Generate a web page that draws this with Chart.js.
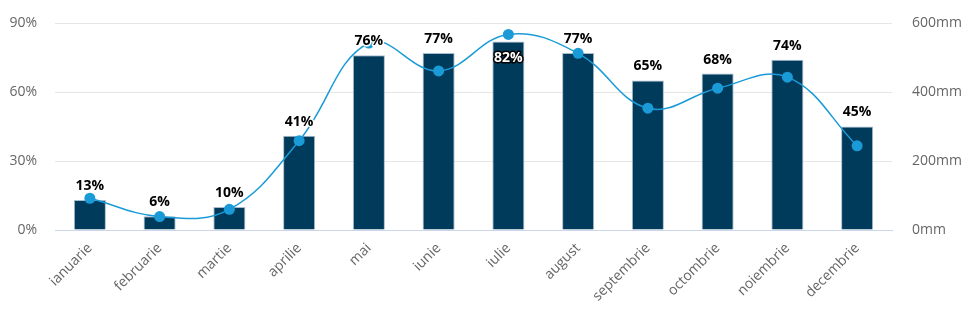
<!DOCTYPE html>
<html>
<head>
<meta charset="utf-8">
<script src="https://cdn.jsdelivr.net/npm/chart.js@4"></script>
<style>
  html, body { margin: 0; padding: 0; background: #fff; }
  #wrap { width: 977px; height: 322px; }
</style>
</head>
<body>
<div id="wrap"><canvas id="chart" width="977" height="322"></canvas></div>
<script>
'use strict';
// data
var months = ['ianuarie', 'februarie', 'martie', 'aprilie', 'mai', 'iunie', 'iulie', 'august', 'septembrie', 'octombrie', 'noiembrie', 'decembrie'];
var percentValues = [13, 6, 10, 41, 76, 77, 82, 77, 65, 68, 74, 45];
var rainMm = [92, 39, 60, 259, 542, 461, 567, 512, 353, 411, 443, 244];
var percentTicks = [0, 30, 60, 90];
var mmTicks = [0, 200, 400, 600];

var FONT = '"Open Sans", "Noto Sans", sans-serif';

// bar value labels, drawn last so they sit over the line
var barLabels = {
  id: 'barLabels',
  afterDatasetsDraw: function(chart) {
    var ctx = chart.ctx;
    var meta = chart.getDatasetMeta(1);
    var maxVal = Math.max.apply(null, percentValues);
    ctx.save();
    ctx.font = 'bold 14px ' + FONT;
    ctx.textAlign = 'center';
    ctx.textBaseline = 'middle';
    ctx.lineJoin = 'round';
    ctx.lineWidth = 3;
    for (var i = 0; i < meta.data.length; i++) {
      var bar = meta.data[i];
      var txt = percentValues[i] + '%';
      //the highest bar gets its label inside
      if (percentValues[i] === maxVal) {
        ctx.strokeStyle = '#000';
        ctx.strokeText(txt, bar.x, bar.y + 17);
        ctx.fillStyle = '#fff';
        ctx.fillText(txt, bar.x, bar.y + 17);
      } else {
        ctx.strokeStyle = '#fff';
        ctx.strokeText(txt, bar.x, bar.y - 14);
        ctx.fillStyle = '#000';
        ctx.fillText(txt, bar.x, bar.y - 14);
      }
    }
    ctx.restore();
  }
};

// fixed axis sizes so the plot area sits where the picture has it
function fixSize(w, h) {
  return function(axis) {
    if (w) axis.width = w;
    if (h) axis.height = h;
    axis.paddingTop = 0;
  };
}

var ctx = document.getElementById('chart');
var myChart = new Chart(ctx, {
  data: {
    labels: months,
    datasets: [{
      type: 'line',
      label: 'mm',
      data: rainMm,
      yAxisID: 'yMm',
      borderColor: '#1a9bd7',
      backgroundColor: '#1a9bd7',
      borderWidth: 1.5,
      tension: 0.4,
      pointRadius: 5.5,
      pointHoverRadius: 5.5,
      pointBorderWidth: 0,
      order: 0
    }, {
      type: 'bar',
      label: '%',
      data: percentValues,
      yAxisID: 'yPct',
      backgroundColor: '#003b5c',
      borderColor: '#a9bccd',
      borderWidth: 1,
      barPercentage: 0.46,
      categoryPercentage: 1,
      order: 1
    }]
  },
  options: {
    responsive: false,
    animation: false,
    layout: { padding: { top: 23, left: 0, right: 0, bottom: 0 } },
    plugins: {
      legend: { display: false },
      tooltip: { enabled: false }
    },
    scales: {
      x: {
        grid: { display: false, drawTicks: false },
        border: { color: '#ccd6eb', width: 1 },
        ticks: {
          color: '#666',
          font: { family: FONT, size: 14 },
          minRotation: 45,
          maxRotation: 45,
          padding: 10
        },
        afterFit: fixSize(0, 92)
      },
      yPct: {
        position: 'left',
        min: 0,
        max: 90,
        afterBuildTicks: function(axis) {
          axis.ticks = percentTicks.map(function(v) { return { value: v }; });
        },
        grid: { color: '#e6e6e6', drawTicks: false },
        border: { display: false },
        ticks: {
          color: '#666',
          font: { family: FONT, size: 14 },
          padding: 18,
          callback: function(v) { return v + '%'; }
        },
        afterFit: fixSize(55, 0)
      },
      yMm: {
        position: 'right',
        min: 0,
        max: 600,
        afterBuildTicks: function(axis) {
          axis.ticks = mmTicks.map(function(v) { return { value: v }; });
        },
        grid: { display: false, drawTicks: false },
        border: { display: false },
        ticks: {
          color: '#666',
          font: { family: FONT, size: 14 },
          padding: 20,
          callback: function(v) { return v + 'mm'; }
        },
        afterFit: fixSize(85, 0)
      }
    }
  },
  plugins: [barLabels]
});
</script>
</body>
</html>
